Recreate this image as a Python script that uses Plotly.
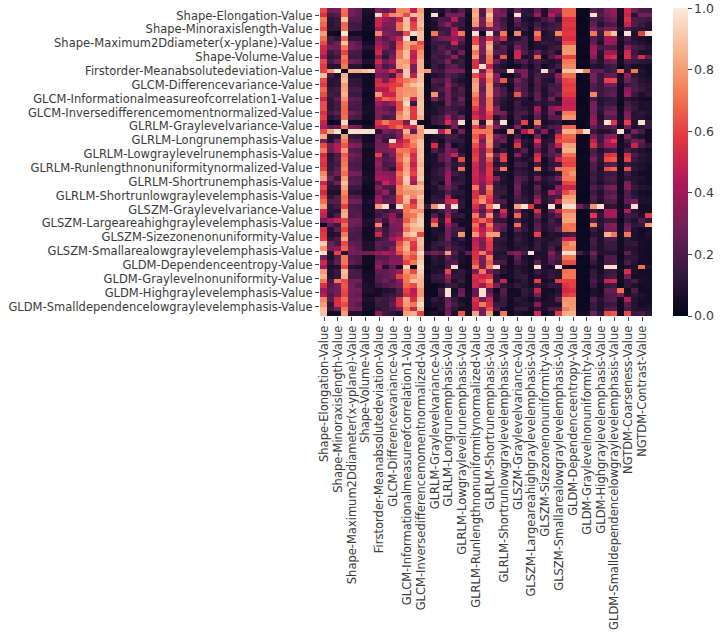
import plotly.graph_objects as go

tick_labels = ["Shape-Elongation-Value","Shape-Minoraxislength-Value","Shape-Maximum2Ddiameter(x-yplane)-Value",
"Shape-Volume-Value","Firstorder-Meanabsolutedeviation-Value","GLCM-Differencevariance-Value",
"GLCM-Informationalmeasureofcorrelation1-Value","GLCM-Inversedifferencemomentnormalized-Value",
"GLRLM-Graylevelvariance-Value","GLRLM-Longrunemphasis-Value","GLRLM-Lowgraylevelrunemphasis-Value",
"GLRLM-Runlengthnonuniformitynormalized-Value","GLRLM-Shortrunemphasis-Value","GLRLM-Shortrunlowgraylevelemphasis-Value",
"GLSZM-Graylevelvariance-Value","GLSZM-Largeareahighgraylevelemphasis-Value","GLSZM-Sizezonenonuniformity-Value",
"GLSZM-Smallarealowgraylevelemphasis-Value","GLDM-Dependenceentropy-Value","GLDM-Graylevelnonuniformity-Value",
"GLDM-Highgraylevelemphasis-Value","GLDM-Smalldependencelowgraylevelemphasis-Value"]
x_only_labels = ["NGTDM-Coarseness-Value","NGTDM-Contrast-Value"]

# correlation values in percent, one list per row
values_pct = [
[62,28,30,70,30,25,8,8,35,25,35,75,75,48,80,4,12,8,18,10,22,8,82,22,78,32,25,8,28,12,10,25,8,32,38,68,68,3,3,25,18,32,38,6,52,28,18,18],
[55,18,22,68,30,24,6,5,97,55,75,78,62,88,85,3,97,5,30,28,30,4,85,20,90,30,30,4,97,12,12,40,8,45,25,68,68,3,3,97,22,28,35,6,50,10,30,28],
[72,12,15,90,22,22,5,6,50,40,30,50,88,50,85,3,10,20,18,45,15,6,80,30,82,25,15,6,28,8,6,10,18,25,10,55,55,2,3,20,15,25,28,5,55,20,18,15],
[68,10,15,68,16,16,5,5,50,32,32,70,88,60,88,4,8,22,38,18,15,4,78,28,72,28,18,5,20,12,8,18,10,15,18,58,58,2,2,25,10,18,20,4,50,22,15,10],
[62,12,12,70,18,16,4,5,40,28,30,70,90,62,82,3,8,14,15,40,12,6,30,20,30,30,20,6,12,15,6,25,12,18,22,55,55,3,3,30,20,30,28,8,20,12,10,8],
[80,4,3,98,5,5,3,3,75,35,28,25,62,96,88,2,72,20,15,45,72,5,97,4,97,15,72,4,75,8,4,72,8,12,75,58,58,2,3,72,15,72,90,3,97,8,60,97],
[70,18,12,68,12,12,2,3,32,22,35,48,96,3,88,3,20,28,30,38,28,6,60,28,55,30,52,8,10,18,6,60,10,10,20,55,55,3,3,22,12,40,40,8,20,10,6,5],
[62,20,28,88,28,22,6,5,40,28,20,60,82,80,62,4,15,14,15,52,18,5,62,35,80,22,10,10,20,18,5,10,14,12,10,62,62,3,3,25,8,38,35,5,15,12,10,6],
[52,30,28,72,30,25,10,10,45,32,20,62,82,65,70,3,12,22,14,20,12,5,85,30,85,15,22,8,30,18,5,10,8,14,16,78,78,2,3,38,18,20,20,4,35,20,15,10],
[50,15,22,60,18,18,5,5,52,18,25,72,88,48,78,3,15,18,30,12,30,4,72,30,78,22,20,5,50,22,10,25,12,18,8,80,78,3,3,42,10,38,38,6,52,15,8,8],
[42,12,15,72,15,16,3,4,32,12,30,72,88,45,80,3,18,14,18,38,12,5,80,22,72,12,65,4,52,8,10,65,5,22,38,60,60,2,2,35,8,50,55,3,55,20,55,25],
[62,18,28,68,28,24,8,8,52,28,38,82,80,52,85,5,14,18,32,12,16,5,55,25,70,28,12,6,15,22,10,18,12,8,12,72,72,3,3,18,10,25,28,6,20,15,12,10],
[58,10,10,72,10,10,3,3,38,18,25,80,85,30,85,3,15,10,22,25,15,4,55,96,50,12,8,5,5,12,6,15,4,10,18,75,75,2,3,10,8,15,18,3,12,6,6,5],
[60,78,98,2,85,85,88,92,40,38,55,30,90,30,85,80,18,15,30,30,30,6,98,30,70,15,18,96,30,30,10,14,96,20,4,90,90,97,75,25,25,15,18,70,12,72,10,5],
[88,18,8,85,8,8,4,3,30,28,18,60,92,48,88,4,8,12,22,18,12,4,62,48,78,35,5,4,12,30,8,20,14,12,38,70,70,3,3,30,15,25,25,6,38,12,8,6],
[62,10,12,88,12,12,4,4,52,32,52,65,72,78,88,2,22,18,30,12,8,6,78,32,72,30,65,10,30,18,8,22,10,8,28,60,62,2,3,30,15,60,62,8,28,18,10,8],
[58,10,12,80,14,12,4,4,55,55,58,60,80,88,92,3,15,12,38,20,12,5,82,28,78,18,10,6,22,20,6,18,10,16,20,58,58,3,3,22,14,28,30,5,15,18,12,10],
[68,14,18,82,18,18,5,5,45,45,60,75,78,78,88,3,14,20,32,12,22,6,82,25,78,28,18,5,28,18,8,20,8,20,18,60,60,3,3,22,15,20,22,5,35,20,15,10],
[62,18,15,85,15,15,3,4,80,50,50,75,80,78,88,2,78,12,30,15,18,5,75,30,78,30,20,8,65,22,10,25,8,15,25,58,58,3,3,75,15,22,25,5,40,15,8,12],
[50,12,25,78,25,22,4,5,52,68,62,75,88,50,88,5,30,15,30,12,28,6,65,30,70,20,12,8,12,10,5,25,10,30,8,50,50,2,3,18,10,12,15,4,10,8,6,5],
[62,12,18,70,20,18,5,6,42,30,40,62,95,15,90,3,10,8,30,16,22,4,68,30,70,18,10,6,18,8,8,12,10,14,12,48,48,2,2,30,10,15,14,3,18,12,8,8],
[62,12,18,68,18,18,6,6,30,25,20,62,85,58,90,5,8,12,18,14,12,6,58,35,70,32,8,6,15,12,8,42,8,32,42,50,50,3,3,30,12,22,24,4,22,14,8,8],
[55,18,25,68,28,22,8,6,32,30,25,72,88,58,90,5,8,12,22,20,10,5,48,35,62,32,30,8,18,20,10,30,10,30,8,72,72,3,3,28,10,30,30,5,30,10,12,8],
[60,10,15,70,20,18,5,6,30,18,22,78,85,58,85,4,14,18,42,16,28,5,55,40,58,8,20,5,20,10,5,25,8,22,22,78,78,3,3,35,8,22,22,6,35,10,10,6],
[50,3,5,95,5,5,3,3,58,72,60,60,28,95,4,3,15,20,55,30,96,4,85,10,90,22,97,4,15,60,6,75,6,10,12,5,8,2,3,40,12,97,58,8,60,10,97,15],
[45,25,25,72,32,28,8,8,48,45,60,70,55,50,85,4,3,5,10,28,8,4,60,32,70,32,12,8,35,6,6,30,10,20,22,68,68,2,2,25,15,20,25,5,30,8,12,15],
[62,82,97,3,97,97,98,97,10,30,25,35,85,25,80,97,97,45,72,8,30,6,72,72,72,8,5,82,8,45,62,12,35,8,25,85,85,72,97,14,8,10,15,97,8,30,18,5],
[85,10,12,80,14,12,6,5,25,18,18,30,72,75,80,4,8,10,20,18,10,6,65,45,75,32,22,6,18,5,4,30,6,10,55,68,68,3,3,30,15,32,35,5,30,12,8,5],
[30,10,28,72,22,20,5,5,30,14,96,45,55,78,88,3,12,5,18,14,14,5,72,28,78,22,28,5,40,12,8,58,10,12,62,65,65,3,3,48,15,45,58,5,15,30,25,5],
[62,30,45,65,35,30,8,8,28,30,55,52,62,72,90,4,55,8,30,5,10,4,62,38,75,20,8,5,58,10,5,35,10,22,48,82,80,3,3,55,20,40,40,6,10,50,20,12],
[72,28,45,80,22,20,4,5,32,30,35,72,72,62,88,3,22,12,30,25,8,5,55,30,62,8,15,5,12,22,6,22,8,25,12,85,85,2,2,20,8,15,18,4,18,12,8,6],
[52,10,18,65,28,25,5,5,60,18,32,65,78,52,90,5,8,22,32,50,14,4,58,30,78,28,58,5,35,12,6,52,12,22,28,70,70,2,3,22,12,55,58,5,55,20,12,8],
[58,12,22,70,25,22,6,6,32,22,25,68,85,55,88,5,8,22,30,10,62,5,60,28,65,14,60,4,12,8,10,58,5,15,50,62,62,3,3,32,12,62,65,6,60,15,10,8],
[55,14,18,72,20,18,5,5,40,18,22,60,80,48,85,4,8,10,25,12,18,5,52,30,55,10,15,5,18,15,6,18,6,12,14,60,60,3,3,22,10,20,22,5,14,10,8,6],
[60,14,25,75,22,20,4,5,30,22,12,58,82,55,90,3,10,15,30,10,70,5,50,28,58,20,72,5,12,10,6,72,8,18,70,72,72,2,3,20,8,62,68,5,62,12,8,6],
[75,20,28,70,30,28,6,6,38,35,32,70,85,60,88,5,12,16,38,16,12,5,52,35,58,8,8,6,15,12,8,12,6,8,12,70,78,3,3,15,10,15,16,4,16,8,5,5],
[82,28,14,80,22,20,8,6,42,40,35,65,92,48,92,4,10,12,40,10,12,6,50,40,55,30,10,5,22,18,8,30,10,15,30,72,72,2,3,18,10,18,20,6,12,10,8,5],
[50,15,30,88,25,22,6,5,20,50,40,62,90,40,80,3,14,6,38,15,15,5,48,35,52,14,8,6,25,12,6,12,8,12,10,60,62,3,2,14,8,14,16,4,30,10,6,5],
[62,12,12,82,15,15,3,4,35,22,20,72,82,85,88,5,8,18,30,18,8,5,72,30,72,15,12,5,28,8,6,25,6,8,35,50,50,3,3,22,14,28,32,5,35,14,10,8],
[52,8,8,75,12,10,3,3,25,40,15,72,78,78,82,3,8,10,22,12,12,4,55,28,65,15,15,5,25,10,6,20,8,45,28,62,72,2,2,15,8,20,22,5,20,10,6,5],
[62,12,22,70,22,20,5,5,38,20,25,62,88,75,90,3,12,10,45,8,8,6,55,72,60,18,8,6,22,12,8,30,10,18,20,80,80,2,2,22,10,25,28,6,22,12,8,6],
[70,22,22,72,30,28,6,8,42,25,25,62,85,52,85,4,14,15,50,55,12,4,62,78,55,22,20,5,18,14,8,45,10,18,52,85,85,3,3,18,8,20,22,5,25,30,8,8],
[82,12,18,60,20,18,5,5,80,97,8,98,72,62,88,15,78,98,30,97,12,4,55,30,72,97,12,5,82,97,58,8,6,97,5,97,97,30,15,78,97,10,12,4,12,97,6,6],
[52,12,10,82,22,20,6,6,18,14,20,25,72,80,78,3,8,15,28,20,5,6,45,22,52,10,55,6,30,8,5,55,6,25,52,72,72,3,3,15,8,42,42,6,45,10,6,6],
[48,10,22,85,20,22,5,5,15,22,35,15,70,72,88,3,22,8,40,12,14,4,72,28,78,18,40,4,68,12,6,30,8,14,25,80,80,2,2,58,12,40,42,5,18,15,8,58],
[30,40,50,60,28,28,8,8,30,15,38,30,65,80,92,3,55,12,55,8,6,5,58,68,55,14,12,5,18,8,6,18,6,18,10,82,82,3,3,22,10,15,15,3,15,8,20,12],
[3,25,15,70,28,25,8,6,75,10,30,35,78,88,92,4,75,8,40,22,5,6,70,35,72,28,25,5,70,12,5,22,10,15,15,72,70,2,2,75,12,30,35,5,25,12,15,80],
[55,10,25,60,22,20,4,5,30,14,28,30,70,85,85,3,8,6,30,18,18,4,62,45,62,30,20,6,25,14,6,25,8,14,25,70,72,3,3,15,8,30,30,6,30,8,5,6],
[58,8,10,72,20,18,5,4,52,16,30,38,85,92,62,3,8,10,30,15,78,4,78,50,80,80,10,4,12,8,6,60,6,10,8,15,18,3,2,10,8,85,72,6,72,8,5,8],
[60,12,20,82,18,20,6,5,14,20,40,50,65,70,88,4,5,12,30,8,15,5,45,35,62,14,14,5,15,10,4,12,10,8,14,50,52,3,3,18,8,20,20,4,12,8,6,6],
[92,28,18,62,25,22,8,8,25,22,22,62,82,58,88,4,12,16,20,12,8,5,48,30,58,12,10,6,12,10,6,15,8,14,14,70,78,3,3,18,8,15,15,4,12,14,6,5],
[78,30,35,68,30,25,8,8,22,18,30,68,85,55,85,5,14,10,25,15,12,6,50,32,58,14,12,6,10,12,8,15,8,18,8,74,74,3,3,14,8,14,15,4,10,10,6,5],
[98,8,60,10,30,28,28,28,38,45,38,62,78,70,95,22,30,25,80,22,8,25,55,72,45,10,8,28,35,20,97,8,8,35,15,97,97,20,8,30,10,10,10,4,25,10,6,5],
[30,8,22,72,22,20,4,4,22,22,30,30,70,62,88,4,12,8,25,14,8,5,55,30,72,10,12,6,25,8,5,10,8,25,18,72,72,2,3,20,5,20,20,3,12,12,6,5],
[52,12,25,72,25,20,5,4,30,25,35,35,60,72,92,3,10,8,18,22,8,5,60,28,65,20,18,5,18,10,6,25,8,20,14,62,62,3,3,14,6,18,20,5,20,10,5,5],
[42,6,8,62,10,8,3,3,38,8,25,5,92,3,96,4,8,6,18,96,4,4,72,28,72,97,8,5,10,8,5,97,8,5,96,5,4,3,2,8,6,96,97,4,8,8,70,10],
[80,10,15,88,20,18,5,4,25,25,30,38,78,62,92,3,8,10,62,10,14,6,30,72,30,18,10,6,12,8,6,15,8,12,10,70,72,3,3,14,6,14,15,4,55,8,5,5],
[85,10,14,85,18,18,6,6,22,25,28,60,72,78,88,4,14,15,40,14,12,4,55,50,55,12,5,6,12,14,6,10,8,14,10,72,72,3,2,14,8,16,18,4,30,6,6,6],
[72,18,72,62,28,28,6,6,22,28,20,35,72,88,85,3,12,12,30,8,15,5,50,60,72,12,50,4,8,12,6,60,6,8,60,60,60,3,3,20,8,50,52,4,12,20,8,6],
[55,22,30,65,28,22,8,6,15,20,25,30,68,62,85,3,3,6,15,14,8,4,52,38,60,30,12,8,14,10,6,14,8,14,12,55,60,3,2,15,5,14,16,3,12,8,5,6],
[40,25,28,62,30,28,8,8,5,8,10,22,60,45,78,3,3,18,97,6,25,5,25,97,22,5,22,4,6,14,10,50,5,5,10,52,55,3,2,8,5,25,25,70,5,20,5,5],
[45,20,28,60,28,25,6,5,6,12,15,20,55,48,78,3,3,14,97,8,28,6,25,97,30,8,20,6,5,12,8,30,5,8,12,58,60,3,3,8,6,20,22,30,8,12,8,6],
[75,25,55,70,30,30,8,8,18,15,20,55,82,55,88,5,14,8,28,14,6,5,55,30,50,8,15,6,12,8,5,12,6,8,25,78,78,3,2,22,10,20,22,4,45,10,6,5],
[80,12,55,62,28,22,6,6,15,14,25,55,80,72,95,4,8,8,30,18,10,5,50,72,55,14,14,5,8,10,8,35,8,8,8,80,78,2,3,15,8,14,15,4,22,10,5,6],
[88,18,28,72,30,28,6,5,12,15,20,30,72,50,88,3,3,10,25,12,6,6,48,30,62,22,8,5,14,14,6,12,8,20,20,72,80,3,3,14,8,20,22,4,18,10,8,8],
[90,5,6,80,8,8,3,3,35,15,12,8,82,85,60,4,8,6,30,8,65,6,82,28,80,3,72,5,10,6,4,52,5,8,58,85,85,5,6,28,12,62,65,5,62,14,18,12],
]

rocket_scale = [[0, "#03051a"], [0.143, "#35193e"], [0.286, "#701f57"], [0.429, "#ad1759"],
                [0.571, "#e13342"], [0.714, "#f37651"], [0.857, "#f6b48f"], [1, "#faebdd"]]

z = [[v / 100 for v in row] for row in values_pct]
n_rows, n_cols = len(z), len(z[0])

text_style = dict(family="DejaVu Sans", size=11.5, color="#3a3a3a")
all_x_labels = tick_labels + x_only_labels

fig = go.Figure(go.Heatmap(
    z=z, zmin=0, zmax=1, colorscale=rocket_scale, zsmooth=False,
    colorbar=dict(xref="container", x=673 / 720, xanchor="left", thickness=15, len=1, y=0.5,
                  tickvals=[0, 0.2, 0.4, 0.6, 0.8, 0.999], ticktext=["0.0", "0.2", "0.4", "0.6", "0.8", "1.0"],
                  ticks="outside", ticklen=4, tickcolor="#444", tickfont=dict(family="DejaVu Sans", size=12.5, color="#3a3a3a"),
                  outlinewidth=0, xpad=0, ypad=0),
))
fig.update_layout(
    width=720, height=636, autosize=False, paper_bgcolor="white", plot_bgcolor="white",
    margin=dict(l=320, r=68, t=8, b=319.5, pad=0, autoexpand=False),
    xaxis=dict(tickmode="array", tickvals=[0.1 + 2 * i for i in range(len(all_x_labels))], ticktext=all_x_labels,
               tickangle=-90, ticks="outside", ticklen=4, tickcolor="#444", tickfont=text_style, automargin=False,
               range=[-0.5, n_cols - 0.5], showgrid=False, zeroline=False, showline=False),
    yaxis=dict(tickmode="array", tickvals=[1.1 + 2.97 * i for i in range(len(tick_labels))], ticktext=tick_labels,
               ticks="outside", ticklen=4, tickcolor="#444", tickfont=text_style, automargin=False,
               range=[n_rows - 0.5, -0.5], showgrid=False, zeroline=False, showline=False),
)
fig.write_html("out.html", post_script="document.body.style.margin='0';", config={"displayModeBar": False})
